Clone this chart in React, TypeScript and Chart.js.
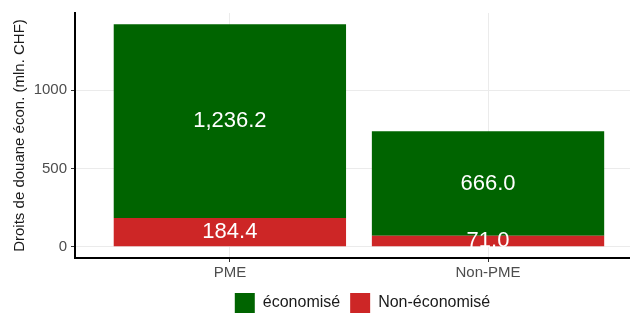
import React, { useEffect, useRef } from "react";
import { Chart, registerables } from "chart.js";

Chart.register(...registerables);

const categories = ["PME", "Non-PME"];
const categoryPositions = [1, 2];
const nonSaved = [184.4, 71.0];
const saved = [1236.2, 666.0];
const yTicks = [0, 500, 1000];
const seriesNames = ["économisé", "Non-économisé"];

const FONT = "'Liberation Sans', Arial, Helvetica, sans-serif";
const GREEN = "#006400";
const RED = "#CD2626";

const fmt = (v: number) =>
  v.toLocaleString("en-US", { minimumFractionDigits: 1, maximumFractionDigits: 1 });

const barLabels = {
  id: "barLabels",
  afterDatasetsDraw(chart: any) {
    const ctx = chart.ctx;
    ctx.save();
    ctx.fillStyle = "#ffffff";
    ctx.font = `22px ${FONT}`;
    ctx.textAlign = "center";
    ctx.textBaseline = "middle";
    chart.data.datasets.forEach((ds: any, i: number) => {
      const meta = chart.getDatasetMeta(i);
      meta.data.forEach((bar: any, j: number) => {
        const p = bar.getProps(["x", "y", "base"], true);
        ctx.fillText(fmt(ds.data[j].y), p.x, (p.y + p.base) / 2);
      });
    });
    ctx.restore();
  },
};

// centre the legend on the (cropped) panel, as in the original figure
const legendShift = {
  id: "legendShift",
  afterLayout(chart: any) {
    const lg = chart.legend;
    if (lg) {
      lg.left += 10;
      lg.right += 10;
    }
  },
};

export default function App() {
  const ref = useRef<HTMLCanvasElement>(null);
  useEffect(() => {
    if (!ref.current) return;
    const totals = nonSaved.map((v, i) => v + saved[i]);
    const maxTotal = Math.max(...totals);
    const chart = new Chart(ref.current, {
      type: "bar",
      data: {
        datasets: [
          {
            label: seriesNames[1],
            data: categoryPositions.map((x, i) => ({ x, y: nonSaved[i] })),
            backgroundColor: RED,
            borderWidth: 0,
            barPercentage: 0.9,
            categoryPercentage: 1,
          },
          {
            label: seriesNames[0],
            data: categoryPositions.map((x, i) => ({ x, y: saved[i] })),
            backgroundColor: GREEN,
            borderWidth: 0,
            barPercentage: 0.9,
            categoryPercentage: 1,
          },
        ],
      },
      options: {
        animation: false,
        responsive: false,
        layout: { padding: { left: 0, right: 0, top: 13, bottom: -9 } },
        scales: {
          x: {
            type: "linear",
            stacked: true,
            offset: false,
            min: 0.4,
            max: 2.55,
            afterBuildTicks: (s: any) => {
              s.ticks = categoryPositions.map((v) => ({ value: v }));
            },
            afterFit: (s: any) => {
              s.height = 25;
            },
            ticks: {
              callback: (v: any) => categories[categoryPositions.indexOf(Number(v))] ?? "",
              color: "#4d4d4d",
              font: { family: FONT, size: 15 },
              padding: 2,
              maxRotation: 0,
              autoSkip: false,
            },
            grid: {
              offset: false,
              color: "#ebebeb",
              lineWidth: 1,
              drawTicks: true,
              tickLength: 4,
              tickColor: "#333333",
            },
            border: { color: "#000000", width: 2 },
          },
          y: {
            type: "linear",
            stacked: true,
            min: -maxTotal * 0.05,
            max: maxTotal * 1.05,
            afterBuildTicks: (s: any) => {
              s.ticks = yTicks.map((v) => ({ value: v }));
            },
            afterFit: (s: any) => {
              s.width = 75;
            },
            ticks: {
              color: "#4d4d4d",
              font: { family: FONT, size: 15 },
              padding: 4,
              callback: (v: any) => String(v),
            },
            grid: {
              color: "#ebebeb",
              lineWidth: 1,
              drawTicks: true,
              tickLength: 4,
              tickColor: "#333333",
            },
            border: { color: "#000000", width: 2 },
            title: {
              display: true,
              text: "Droits de douane écon. (mln. CHF)",
              color: "#1a1a1a",
              font: { family: FONT, size: 15 },
              padding: { top: 11, bottom: 0 },
            },
          },
        },
        plugins: {
          legend: {
            position: "bottom",
            fullSize: false,
            reverse: true,
            labels: {
              boxWidth: 20,
              boxHeight: 20,
              padding: 10,
              color: "#1a1a1a",
              font: { family: FONT, size: 16 },
            },
          },
          tooltip: { enabled: false },
        },
      },
      plugins: [barLabels, legendShift],
    } as any);
    return () => chart.destroy();
  }, []);
  return (
    <div style={{ position: "fixed", left: 0, top: 0, width: 630, height: 314, background: "#fff" }}>
      <canvas ref={ref} width={630} height={314} style={{ display: "block" }} />
    </div>
  );
}
